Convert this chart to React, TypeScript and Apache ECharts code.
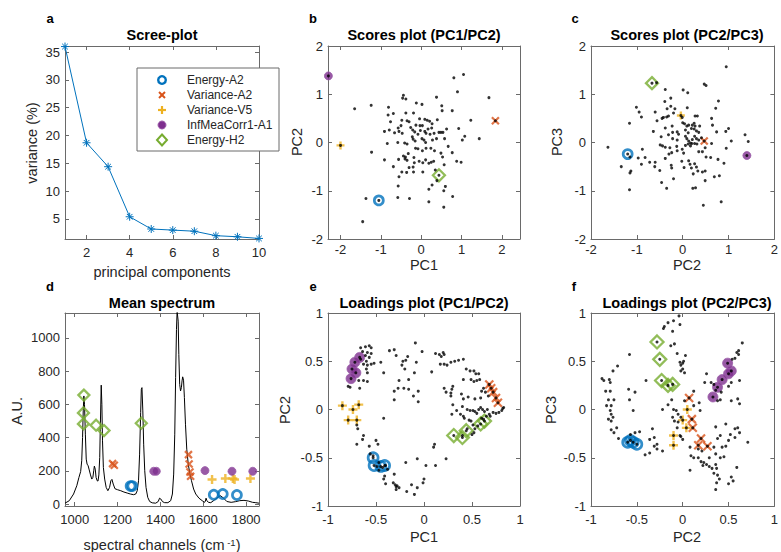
import React, { useEffect, useRef } from "react";
import * as echarts from "echarts";

const FONT = "'Liberation Sans', Arial, Helvetica, sans-serif";
const TXT = "#262626";
const LINE = "#6a6a6a";
const BLUE = "#0072BD";
const ORANGE = "#D95319";
const YELLOW = "#EDB120";
const PURPLE = "#7E2F8E";
const GREEN = "#77AC30";

// ---------- a: scree plot ----------
const components = [1, 2, 3, 4, 5, 6, 7, 8, 9, 10];
const varianceExplained = [36.0, 18.7, 14.4, 5.4, 3.2, 3.0, 2.8, 2.0, 1.8, 1.5];
const screeXTicks = [2, 4, 6, 8, 10];
const screeYTicks = [5, 10, 15, 20, 25, 30, 35];

// ---------- b: scores PC1/PC2 ----------
const scoresPC1PC2 = [
  [0.81, 1.34], [1.05, 1.41], [0.9, 1.05], [1.68, 0.93], [0.38, 0.94], [-1.65, 0.7], [-1.24, 0.77], [-0.44, 0.98],
  [-0.46, 0.92], [-0.38, 0.9], [-0.12, 0.82], [0.02, 0.79], [0.51, 0.76], [-0.81, 0.73], [0.52, 0.66], [0.77, 0.66],
  [-0.82, 0.57], [-0.69, 0.6], [-0.38, 0.61], [-0.19, 0.61], [-0.04, 0.49], [0.09, 0.48], [0.15, 0.46], [0.21, 0.44],
  [0.4, 0.47], [-0.48, 0.46], [-0.35, 0.45], [-0.3, 0.43], [1.23, 0.46], [-0.76, 0.43], [-0.57, 0.3], [-0.5, 0.35],
  [-0.26, 0.31], [-0.13, 0.36], [-0.03, 0.35], [0.03, 0.35], [0.27, 0.39], [0.26, 0.3], [-0.91, 0.23], [-0.79, 0.26],
  [-0.66, 0.2], [-0.55, 0.23], [-0.47, 0.19], [-0.21, 0.26], [-0.16, 0.22], [-0.02, 0.25], [0.09, 0.23], [0.12, 0.19],
  [0.17, 0.28], [0.22, 0.17], [0.32, 0.19], [0.44, 0.21], [0.49, 0.21], [0.54, 0.21], [0.63, 0.28], [0.93, 0.29],
  [1.08, 0.13], [1.02, 0.05], [1.44, 0.08], [-0.84, -0.02], [-0.58, 0.0], [-0.41, -0.01], [-0.35, -0.03], [-0.22, 0.12],
  [-0.2, 0.07], [-0.15, 0.03], [-0.08, 0.17], [0.02, 0.08], [0.07, 0.05], [0.11, 0.0], [0.28, 0.05], [0.38, 0.08],
  [0.58, 0.08], [-0.08, -0.13], [-0.14, -0.12], [0.03, -0.17], [0.12, -0.12], [0.24, -0.12], [0.33, -0.17], [0.49, -0.22],
  [0.53, -0.3], [0.67, -0.08], [0.77, -0.21], [-1.23, -0.2], [-0.91, -0.36], [-0.56, -0.35], [-0.44, -0.28], [-0.39, -0.3],
  [-0.4, -0.34], [-0.32, -0.23], [-0.35, -0.37], [-0.18, -0.31], [-0.17, -0.42], [-0.05, -0.39], [0.04, -0.42], [0.11, -0.36],
  [0.19, -0.43], [0.25, -0.41], [0.31, -0.39], [0.57, -0.46], [0.88, -0.39], [0.99, -0.41], [-0.69, -0.5], [-0.2, -0.51],
  [-0.3, -0.52], [-0.48, -0.61], [-0.55, -0.71], [-0.36, -0.62], [-0.19, -0.61], [0.04, -0.61], [0.35, -0.57], [0.39, -0.79],
  [0.6, -0.91], [0.56, -1.0], [0.27, -0.88], [0.19, -0.97], [-0.57, -0.9], [-0.58, -1.14], [-0.29, -1.16], [0.78, -1.12],
  [-1.37, -1.16], [0.19, -1.23], [0.56, -1.34], [-1.45, -1.64],
];
const energyA2Scores12 = [[-1.05, -1.2]];
const varianceA2Scores12 = [[1.84, 0.45]];
const varianceV5Scores12 = [[-2.0, -0.06]];
const infMeaCorrScores12 = [[-2.3, 1.38]];
const energyH2Scores12 = [[0.44, -0.68]];

// ---------- c: scores PC2/PC3 ----------
const scoresPC2PC3 = [
  [0.95, 1.57], [-0.57, 1.24], [-0.38, 1.1], [0.01, 1.09], [0.11, 1.03], [0.47, 1.21], [0.51, 1.18], [-0.26, 0.92],
  [0.78, 0.86], [-1.01, 0.73], [-0.95, 0.63], [-0.9, 0.53], [-0.39, 0.85], [-0.34, 0.7], [-0.26, 0.75], [-0.17, 0.7],
  [0.1, 0.72], [0.72, 0.71], [-0.6, 0.63], [-0.2, 0.61], [-1.16, 0.4], [-0.56, 0.45], [-0.45, 0.5], [-0.42, 0.52],
  [-0.35, 0.53], [-0.31, 0.55], [-0.01, 0.52], [0.27, 0.55], [0.32, 0.55], [0.63, 0.5], [-0.64, 0.23], [-0.38, 0.3],
  [-0.23, 0.34], [-0.22, 0.21], [-0.12, 0.22], [-0.09, 0.17], [0.0, 0.41], [0.04, 0.39], [0.09, 0.34], [0.13, 0.36],
  [0.21, 0.36], [0.25, 0.4], [0.27, 0.34], [0.37, 0.34], [0.06, 0.26], [0.12, 0.2], [0.19, 0.29], [0.25, 0.28],
  [0.3, 0.24], [0.35, 0.21], [0.41, 0.1], [0.65, 0.36], [0.74, 0.22], [0.94, 0.23], [1.0, 0.29], [1.06, 0.03],
  [1.36, 0.16], [1.43, 0.02], [-0.47, 0.12], [-0.31, 0.16], [-0.22, 0.08], [-0.12, 0.05], [0.06, 0.13], [0.09, 0.08],
  [0.13, 0.03], [0.17, -0.01], [0.21, 0.06], [0.26, 0.13], [0.3, 0.08], [0.35, 0.05], [-0.44, -0.07], [-0.49, -0.05],
  [-0.38, -0.1], [-0.28, -0.11], [-0.24, -0.21], [-0.13, -0.08], [-0.12, -0.17], [-0.01, -0.14], [0.02, -0.22], [0.06, -0.06],
  [0.12, -0.03], [0.17, -0.07], [0.2, -0.02], [0.26, -0.02], [0.31, -0.03], [0.35, -0.19], [0.43, -0.19], [0.49, -0.11],
  [0.63, -0.02], [0.51, -0.3], [0.77, -0.35], [0.61, -0.31], [0.95, -0.12], [0.9, -0.43], [-1.63, -0.1], [-1.15, -0.3],
  [-0.88, -0.14], [-0.82, -0.31], [-0.97, -0.32], [-0.9, -0.45], [-0.72, -0.41], [-0.6, -0.41], [-0.61, -0.5], [-1.34, -0.5],
  [-1.13, -0.59], [-1.15, -0.63], [-0.5, -0.58], [-0.38, -0.33], [-0.3, -0.24], [-0.25, -0.47], [-0.24, -0.53], [-0.02, -0.39],
  [0.03, -0.52], [0.13, -0.38], [0.16, -0.45], [0.19, -0.53], [0.26, -0.44], [0.3, -0.51], [0.23, -0.65], [0.33, -0.59],
  [0.43, -0.61], [0.49, -0.59], [0.69, -0.71], [0.8, -0.69], [-0.46, -0.83], [-0.35, -0.95], [-0.2, -0.75], [0.22, -0.95],
  [0.28, -0.94], [0.49, -0.79], [-1.16, -0.98], [0.45, -1.3], [0.84, -1.23],
];
const energyA2Scores23 = [[-1.2, -0.24]];
const varianceA2Scores23 = [[0.47, 0.03]];
const varianceV5Scores23 = [[-0.04, 0.56]];
const infMeaCorrScores23 = [[1.4, -0.27]];
const energyH2Scores23 = [[-0.67, 1.23]];

// ---------- d: mean spectrum ----------
const spectrumX = [
  955, 975, 995, 1010, 1020, 1028, 1033, 1037, 1040, 1043, 1046, 1050, 1054, 1058, 1063, 1068, 1074, 1080, 1085, 1089,
  1092, 1096, 1100, 1105, 1109, 1113, 1117, 1120, 1124, 1127, 1130, 1134, 1140, 1147, 1155, 1163, 1169, 1174, 1180, 1188,
  1200, 1215, 1230, 1245, 1260, 1275, 1285, 1292, 1298, 1303, 1308, 1311, 1314, 1318, 1322, 1327, 1333, 1341, 1350, 1362,
  1378, 1390, 1396, 1402, 1410, 1420, 1435, 1448, 1456, 1462, 1467, 1471, 1475, 1478, 1480, 1483, 1486, 1490, 1494, 1498,
  1501, 1504, 1508, 1512, 1517, 1523, 1530, 1537, 1545, 1555, 1565, 1580, 1595, 1606, 1610, 1613, 1617, 1624, 1635, 1650,
  1665, 1680, 1695, 1710, 1730, 1750, 1770, 1790, 1810, 1830, 1845, 1860,
];
const spectrumY = [
  5, 20, 60, 110, 160, 195, 260, 400, 560, 650, 600, 420, 270, 240, 230, 205, 175, 150, 160, 200,
  228, 210, 160, 140, 138, 175, 280, 480, 715, 600, 380, 220, 150, 100, 80, 100, 140, 148, 120, 92,
  86, 80, 72, 66, 60, 56, 60, 80, 140, 300, 550, 690, 700, 560, 360, 200, 100, 40, 15, 7,
  5, 15, 35, 30, 14, 8, 8, 20, 60, 180, 420, 760, 1050, 1160, 1160, 1100, 900, 720, 680, 700,
  740, 765, 745, 640, 480, 330, 240, 185, 140, 90, 60, 35, 20, 10, 18, 35, 20, 10, 8, 22,
  38, 50, 35, 15, 10, 14, 20, 22, 18, 10, 8, 5,
];
const spectrumXTicks = [1000, 1200, 1400, 1600, 1800];
const spectrumYTicks = [0, 200, 400, 600, 800, 1000];
const energyA2Spectrum = [[1261, 108], [1269, 108], [1649, 56], [1691, 60], [1757, 54]];
const varianceA2Spectrum = [[1177, 243], [1185, 233], [1531, 297], [1534, 241], [1538, 193], [1541, 167]];
const varianceV5Spectrum = [[1641, 147], [1703, 153], [1738, 153], [1746, 147], [1820, 153]];
const infMeaCorrSpectrum = [[1369, 197], [1381, 197], [1608, 201], [1734, 197], [1831, 197]];
const energyH2Spectrum = [[1043, 655], [1041, 548], [1041, 482], [1100, 474], [1137, 442], [1311, 486]];

// ---------- e: loadings PC1/PC2 ----------
const loadingsPC1PC2 = [
  [-0.66, 0.64], [-0.61, 0.65], [-0.57, 0.66], [-0.55, 0.64], [-0.64, 0.6], [-0.59, 0.59], [-0.55, 0.58], [-0.61, 0.56],
  [-0.57, 0.54], [-0.6, 0.5], [-0.63, 0.47], [-0.59, 0.46], [-0.55, 0.47], [-0.52, 0.48], [-0.66, 0.52], [-0.6, 0.42],
  [-0.59, 0.38], [-0.68, 0.3], [-0.63, 0.3], [-0.59, 0.29], [-0.79, 0.24], [-0.77, 0.23], [-0.67, 0.22], [-0.36, 0.61],
  [-0.31, 0.62], [-0.09, 0.69], [-0.02, 0.6], [-0.29, 0.56], [-0.19, 0.51], [-0.22, 0.5], [-0.17, 0.55], [-0.23, 0.46],
  [-0.08, 0.49], [-0.45, 0.49], [-0.42, 0.38], [-0.2, 0.42], [-0.1, 0.38], [-0.26, 0.3], [-0.16, 0.31], [-0.31, 0.19],
  [-0.27, 0.22], [-0.21, 0.22], [-0.16, 0.21], [-0.06, 0.19], [-0.11, 0.14], [-0.06, 0.08], [-0.31, 0.1], [0.08, 0.39],
  [0.12, 0.58], [0.16, 0.57], [0.2, 0.59], [0.21, 0.57], [0.18, 0.55], [0.17, 0.47], [0.21, 0.47], [0.24, 0.46],
  [0.28, 0.49], [0.32, 0.5], [0.36, 0.51], [0.41, 0.52], [0.44, 0.42], [0.48, 0.4], [0.52, 0.4], [0.54, 0.37],
  [0.57, 0.37], [0.41, 0.31], [0.49, 0.31], [0.52, 0.29], [0.55, 0.3], [0.58, 0.31], [0.3, 0.24], [0.29, 0.21],
  [0.21, 0.22], [0.23, 0.18], [0.28, 0.17], [0.28, 0.14], [0.39, 0.16], [0.41, 0.11], [0.46, 0.13], [0.53, 0.11],
  [0.59, 0.12], [0.6, 0.19], [0.62, 0.22], [0.64, 0.18], [0.67, 0.14], [0.3, 0.05], [0.4, 0.03], [0.29, -0.05],
  [0.34, -0.01], [0.38, -0.05], [0.41, -0.07], [0.45, 0.0], [0.48, -0.01], [0.51, -0.01], [0.53, -0.02], [0.55, -0.04],
  [0.57, 0.0], [0.59, 0.02], [0.61, 0.0], [0.63, -0.02], [0.66, 0.0], [0.68, -0.05], [0.72, -0.03], [0.75, -0.04],
  [0.78, -0.03], [0.82, 0.01], [0.83, 0.02], [0.81, -0.01], [0.42, -0.09], [0.47, -0.11], [0.49, -0.12], [0.51, -0.16],
  [0.53, -0.2], [0.56, -0.17], [0.6, -0.09], [0.62, -0.1], [0.65, -0.07], [0.69, -0.07], [0.5, -0.26], [0.52, -0.24],
  [0.45, -0.2], [0.4, -0.27], [-0.42, -0.09], [-0.7, -0.16], [-0.69, -0.2], [-0.64, -0.31], [-0.63, -0.27], [-0.7, -0.36],
  [-0.57, -0.38], [-0.5, -0.32], [-0.48, -0.36], [-0.56, -0.46], [-0.53, -0.48], [-0.47, -0.55], [-0.49, -0.59], [-0.47, -0.63],
  [-0.43, -0.6], [-0.4, -0.58], [-0.38, -0.62], [-0.41, -0.69], [-0.42, -0.72], [-0.31, -0.67], [-0.4, -0.77], [-0.32, -0.76],
  [-0.3, -0.78], [-0.29, -0.8], [-0.28, -0.79], [-0.26, -0.81], [-0.29, -0.83], [-0.18, -0.85], [-0.13, -0.78], [-0.1, -0.88],
  [-0.07, -0.81], [-0.07, -0.51], [0.02, -0.58], [0.0, -0.72], [0.12, -0.58], [0.1, -0.39], [0.11, -0.36], [0.23, -0.51],
  [-0.19, -0.55], [-0.01, -0.76],
];
const energyA2Loadings12 = [[-0.53, -0.5], [-0.52, -0.58], [-0.45, -0.59], [-0.41, -0.58]];
const varianceA2Loadings12 = [[0.68, 0.26], [0.7, 0.22], [0.72, 0.18], [0.75, 0.12], [0.77, 0.07]];
const varianceV5Loadings12 = [[-0.85, 0.04], [-0.74, 0.0], [-0.68, 0.05], [-0.79, -0.11], [-0.7, -0.11]];
const infMeaCorrLoadings12 = [[-0.67, 0.54], [-0.72, 0.49], [-0.75, 0.42], [-0.71, 0.38], [-0.76, 0.32]];
const energyH2Loadings12 = [[0.31, -0.27], [0.4, -0.29], [0.44, -0.22], [0.59, -0.15], [0.63, -0.12]];

// ---------- f: loadings PC2/PC3 ----------
const loadingsPC2PC3 = [
  [-0.04, 0.97], [-0.1, 0.92], [-0.16, 0.9], [-0.2, 0.86], [-0.21, 0.84], [-0.11, 0.81], [-0.03, 0.88], [-0.09, 0.68],
  [-0.13, 0.66], [-0.06, 0.58], [0.03, 0.56], [0.0, 0.48], [-0.03, 0.49], [-0.02, 0.46], [0.01, 0.5], [0.0, 0.42],
  [0.02, 0.38], [-0.02, 0.4], [-0.58, 0.57], [-0.71, 0.45], [-0.76, 0.4], [-0.88, 0.32], [-0.86, 0.3], [-0.8, 0.31],
  [-0.79, 0.28], [-0.84, 0.19], [-0.79, 0.19], [-0.4, 0.3], [-0.59, 0.21], [-0.52, 0.18], [-0.58, 0.1], [-0.81, 0.1],
  [-0.83, 0.04], [-0.78, 0.04], [-0.75, 0.1], [-0.79, -0.01], [-0.78, -0.05], [-0.81, -0.1], [-0.78, -0.12], [-0.76, -0.08],
  [-0.72, -0.19], [-0.78, -0.21], [-0.75, -0.24], [-0.7, -0.3], [-0.54, -0.01], [-0.57, -0.26], [-0.52, -0.24], [-0.47, -0.23],
  [-0.33, -0.2], [-0.31, -0.29], [-0.36, -0.31], [-0.28, -0.36], [-0.31, -0.38], [-0.28, -0.41], [-0.41, -0.47], [-0.36, -0.45],
  [-0.22, -0.43], [-0.12, 0.1], [-0.16, 0.05], [-0.22, 0.0], [-0.1, 0.0], [-0.07, -0.01], [0.02, 0.09], [-0.05, -0.05],
  [-0.02, -0.08], [-0.06, -0.19], [-0.03, -0.27], [-0.02, -0.28], [0.0, -0.31], [-0.11, -0.08], [-0.09, -0.12], [-0.05, -0.13],
  [0.12, 0.19], [0.18, 0.07], [0.12, 0.04], [0.19, -0.01], [0.26, 0.37], [0.24, 0.28], [0.31, 0.28], [0.34, 0.26],
  [0.36, 0.2], [0.38, 0.09], [0.41, 0.1], [0.42, 0.18], [0.53, 0.28], [0.62, 0.3], [0.6, 0.11], [0.62, 0.06],
  [0.53, 0.09], [0.5, 0.24], [0.57, 0.53], [0.61, 0.57], [0.65, 0.69], [0.61, 0.61], [0.59, 0.59], [0.54, 0.52],
  [0.36, -0.18], [0.47, -0.15], [0.57, -0.2], [0.6, -0.19], [0.52, -0.26], [0.41, -0.27], [0.38, -0.3], [0.5, -0.32],
  [0.57, -0.29], [0.62, -0.24], [0.71, -0.34], [0.08, -0.39], [0.09, -0.48], [0.12, -0.5], [0.17, -0.5], [0.2, -0.54],
  [0.23, -0.55], [0.26, -0.57], [0.22, -0.58], [0.29, -0.59], [0.32, -0.61], [0.36, -0.57], [0.37, -0.61], [0.34, -0.66],
  [0.38, -0.68], [0.4, -0.72], [0.37, -0.76], [0.36, -0.83], [0.41, -0.5], [0.45, -0.49], [0.43, -0.39], [0.47, -0.38],
  [0.59, -0.6], [0.53, -0.7], [0.55, -0.74], [0.5, -0.77], [0.08, -0.63], [0.17, -0.41], [0.21, -0.43], [0.29, -0.5],
  [0.36, -0.46], [0.34, -0.39],
];
const energyA2Loadings23 = [[-0.6, -0.34], [-0.57, -0.32], [-0.54, -0.34], [-0.5, -0.36]];
const varianceA2Loadings23 = [[0.07, 0.12], [0.1, -0.1], [0.11, -0.19], [0.2, -0.3], [0.17, -0.37], [0.27, -0.38]];
const varianceV5Loadings23 = [[0.05, 0.0], [0.0, -0.11], [0.04, -0.19], [-0.1, -0.27], [-0.1, -0.37]];
const infMeaCorrLoadings23 = [[0.49, 0.48], [0.53, 0.4], [0.5, 0.37], [0.43, 0.31], [0.38, 0.23], [0.33, 0.13]];
const energyH2Loadings23 = [[-0.28, 0.7], [-0.25, 0.52], [-0.23, 0.3], [-0.16, 0.25], [-0.11, 0.26]];

const scoreTicks = [-2, -1, 0, 1, 2];
const loadingTicks = [-1, -0.5, 0, 0.5, 1];

const featureNames = ["Energy-A2", "Variance-A2", "Variance-V5", "InfMeaCorr1-A1", "Energy-H2"];

const X_PATH = "path://M0 0L10 10M10 0L0 10";
const PLUS_PATH = "path://M5 0L5 10M0 5L10 5";
const STAR_PATH = "path://M5 0L5 10M0 5L10 5M1.5 1.5L8.5 8.5M8.5 1.5L1.5 8.5";

type Sizes = { c: number; x: number; p: number; d: number; m: number };

function axes(g: number, dim: "x" | "y", min: number, max: number, ticks: number[], margin: number) {
  const base = {
    type: "value",
    gridIndex: g,
    min,
    max,
    splitLine: { show: false },
    axisLine: { show: true, onZero: false, lineStyle: { color: LINE, width: 1 } },
    axisTick: { show: true, inside: true, length: 4, customValues: ticks, lineStyle: { color: LINE, width: 1 } },
  };
  const main = {
    ...base,
    position: dim === "x" ? "bottom" : "left",
    axisLabel: {
      show: true,
      customValues: ticks,
      color: TXT,
      fontSize: 13,
      fontFamily: FONT,
      margin,
      formatter: (v: number) => String(v),
    },
  };
  const mirror = {
    ...base,
    position: dim === "x" ? "top" : "right",
    axisLabel: { show: false },
  };
  return [main, mirror];
}

function markers(g: number, sets: number[][][], s: Sizes) {
  const styles = [
    { symbol: "circle", symbolSize: s.c, itemStyle: { color: "none", borderColor: BLUE, borderWidth: 2.7 } },
    { symbol: X_PATH, symbolSize: s.x, itemStyle: { color: "none", borderColor: ORANGE, borderWidth: 2.2 } },
    { symbol: PLUS_PATH, symbolSize: s.p, itemStyle: { color: "none", borderColor: YELLOW, borderWidth: 2.4 } },
    { symbol: "circle", symbolSize: s.m, itemStyle: { color: PURPLE, borderColor: "#9a5aa8", borderWidth: 1 } },
    { symbol: "diamond", symbolSize: s.d, itemStyle: { color: "none", borderColor: GREEN, borderWidth: 2.3 } },
  ];
  return sets.map((data, i) => ({
    type: "scatter",
    name: featureNames[i],
    xAxisIndex: 2 * g,
    yAxisIndex: 2 * g,
    data,
    silent: true,
    z: 3,
    ...styles[i],
  }));
}

function dots(g: number, data: number[][]) {
  return {
    type: "scatter",
    xAxisIndex: 2 * g,
    yAxisIndex: 2 * g,
    data,
    symbol: "circle",
    symbolSize: 3,
    itemStyle: { color: "#000" },
    silent: true,
    z: 4,
  };
}

function txt(text: string, x: number, y: number, size: number, opts: any = {}) {
  return {
    type: "text",
    x,
    y,
    rotation: opts.rotate ? Math.PI / 2 : 0,
    z: 100,
    silent: true,
    style: {
      text,
      fill: opts.color || TXT,
      fontSize: size,
      fontWeight: opts.bold ? "bold" : "normal",
      fontFamily: FONT,
      align: opts.align || "center",
      verticalAlign: "middle",
      rich: opts.rich,
    },
  };
}

export default function App() {
  const ref = useRef<HTMLDivElement>(null);
  useEffect(() => {
    if (!ref.current) return;
    const chart = echarts.init(ref.current, null, { renderer: "svg" });

    const grids = [
      { left: 65, top: 46, width: 194, height: 193 },
      { left: 328, top: 46, width: 192, height: 193 },
      { left: 591, top: 46, width: 192, height: 193 },
      { left: 65, top: 313, width: 194, height: 193 },
      { left: 328, top: 313, width: 192, height: 193 },
      { left: 591, top: 313, width: 192, height: 193 },
    ];

    const xAxis = [
      ...axes(0, "x", 1, 10, screeXTicks, 7),
      ...axes(1, "x", -2.31, 2.45, scoreTicks, 4),
      ...axes(2, "x", -2, 2, scoreTicks, 4),
      ...axes(3, "x", 955, 1860, spectrumXTicks, 7),
      ...axes(4, "x", -1, 1, loadingTicks, 7),
      ...axes(5, "x", -1, 1, loadingTicks, 7),
    ];
    const yAxis = [
      ...axes(0, "y", 1.4, 36.1, screeYTicks, 5),
      ...axes(1, "y", -2, 2, scoreTicks, 5),
      ...axes(2, "y", -2, 2, scoreTicks, 5),
      ...axes(3, "y", -12, 1149, spectrumYTicks, 5),
      ...axes(4, "y", -1, 1, loadingTicks, 5),
      ...axes(5, "y", -1, 1, loadingTicks, 5),
    ];

    const scoreSizes: Sizes = { c: 9, x: 7, p: 8, d: 12, m: 8 };
    const loadSizes: Sizes = { c: 10, x: 8, p: 9, d: 13, m: 10 };
    const specSizes: Sizes = { c: 9, x: 7, p: 9, d: 11, m: 8 };

    const specB = [energyA2Scores12, varianceA2Scores12, varianceV5Scores12, infMeaCorrScores12, energyH2Scores12];
    const specC = [energyA2Scores23, varianceA2Scores23, varianceV5Scores23, infMeaCorrScores23, energyH2Scores23];
    const specD = [energyA2Spectrum, varianceA2Spectrum, varianceV5Spectrum, infMeaCorrSpectrum, energyH2Spectrum];
    const specE = [energyA2Loadings12, varianceA2Loadings12, varianceV5Loadings12, infMeaCorrLoadings12, energyH2Loadings12];
    const specF = [energyA2Loadings23, varianceA2Loadings23, varianceV5Loadings23, infMeaCorrLoadings23, energyH2Loadings23];

    const series: any[] = [
      {
        type: "line",
        xAxisIndex: 0,
        yAxisIndex: 0,
        data: components.map((c, i) => [c, varianceExplained[i]]),
        symbol: STAR_PATH,
        symbolSize: 8,
        showSymbol: true,
        lineStyle: { color: BLUE, width: 1 },
        itemStyle: { color: "none", borderColor: BLUE, borderWidth: 1 },
        silent: true,
        z: 3,
      },
      {
        type: "line",
        xAxisIndex: 6,
        yAxisIndex: 6,
        data: spectrumX.map((x, i) => [x, spectrumY[i]]),
        showSymbol: false,
        symbol: "none",
        lineStyle: { color: "#000", width: 1 },
        silent: true,
        z: 2,
      },
      ...markers(1, specB, scoreSizes),
      dots(1, [...scoresPC1PC2, ...specB.flat()]),
      ...markers(2, specC, scoreSizes),
      dots(2, [...scoresPC2PC3, ...specC.flat()]),
      ...markers(3, specD, specSizes),
      ...markers(4, specE, loadSizes),
      dots(4, [...loadingsPC1PC2, ...specE.flat()]),
      ...markers(5, specF, loadSizes),
      dots(5, [...loadingsPC2PC3, ...specF.flat()]),
    ];

    const legendRows = [80, 95, 110, 125, 140];
    const mx = 162;
    const legend: any[] = [
      { type: "rect", z: 99, silent: true, shape: { x: 137, y: 68, width: 142, height: 83 }, style: { fill: "#fff", stroke: LINE, lineWidth: 1 } },
      { type: "circle", z: 100, silent: true, shape: { cx: mx, cy: legendRows[0], r: 3.8 }, style: { fill: "none", stroke: BLUE, lineWidth: 2.4 } },
      { type: "line", z: 100, silent: true, shape: { x1: mx - 3, y1: legendRows[1] - 3, x2: mx + 3, y2: legendRows[1] + 3 }, style: { stroke: ORANGE, lineWidth: 2 } },
      { type: "line", z: 100, silent: true, shape: { x1: mx + 3, y1: legendRows[1] - 3, x2: mx - 3, y2: legendRows[1] + 3 }, style: { stroke: ORANGE, lineWidth: 2 } },
      { type: "line", z: 100, silent: true, shape: { x1: mx, y1: legendRows[2] - 4, x2: mx, y2: legendRows[2] + 4 }, style: { stroke: YELLOW, lineWidth: 2.2 } },
      { type: "line", z: 100, silent: true, shape: { x1: mx - 4, y1: legendRows[2], x2: mx + 4, y2: legendRows[2] }, style: { stroke: YELLOW, lineWidth: 2.2 } },
      { type: "circle", z: 100, silent: true, shape: { cx: mx, cy: legendRows[3], r: 4 }, style: { fill: PURPLE, stroke: "#9a5aa8", lineWidth: 1 } },
      { type: "polygon", z: 100, silent: true, shape: { points: [[mx, legendRows[4] - 5.5], [mx + 5, legendRows[4]], [mx, legendRows[4] + 5.5], [mx - 5, legendRows[4]]] }, style: { fill: "none", stroke: GREEN, lineWidth: 2 } },
      ...featureNames.map((n, i) => txt(n, 187, legendRows[i], 12, { align: "left" })),
    ];

    const labels: any[] = [
      txt("a", 50, 18, 13, { bold: true, color: "#000" }),
      txt("b", 313, 18, 13, { bold: true, color: "#000" }),
      txt("c", 575, 18, 13, { bold: true, color: "#000" }),
      txt("d", 50, 286, 13, { bold: true, color: "#000" }),
      txt("e", 313, 286, 13, { bold: true, color: "#000" }),
      txt("f", 574, 286, 13, { bold: true, color: "#000" }),
      txt("Scree-plot", 162, 35, 14.5, { bold: true, color: "#000" }),
      txt("Scores plot (PC1/PC2)", 424, 35, 14.5, { bold: true, color: "#000" }),
      txt("Scores plot (PC2/PC3)", 687, 35, 14.5, { bold: true, color: "#000" }),
      txt("Mean spectrum", 162, 303, 14.5, { bold: true, color: "#000" }),
      txt("Loadings plot (PC1/PC2)", 424, 303, 14.5, { bold: true, color: "#000" }),
      txt("Loadings plot (PC2/PC3)", 687, 303, 14.5, { bold: true, color: "#000" }),
      txt("variance (%)", 32, 143, 14.5, { rotate: true }),
      txt("principal components", 162, 272, 14.5),
      txt("PC2", 297, 142, 14.5, { rotate: true }),
      txt("PC1", 424, 265, 14.5),
      txt("PC3", 557, 142, 14.5, { rotate: true }),
      txt("PC2", 687, 265, 14.5),
      txt("A.U.", 17, 411, 14.5, { rotate: true }),
      txt("spectral channels (cm{sup| -1})", 162, 545, 14.5, { rich: { sup: { fontSize: 9.5, fontFamily: FONT, fill: TXT, verticalAlign: "top", lineHeight: 10 } } }),
      txt("PC2", 285, 410, 14.5, { rotate: true }),
      txt("PC1", 424, 537, 14.5),
      txt("PC3", 551, 410, 14.5, { rotate: true }),
      txt("PC2", 687, 537, 14.5),
    ];

    chart.setOption({
      animation: false,
      backgroundColor: "#fff",
      textStyle: { fontFamily: FONT },
      grid: grids,
      xAxis,
      yAxis,
      series,
      graphic: { elements: [...legend, ...labels] },
    });
    return () => chart.dispose();
  }, []);

  return <div ref={ref} style={{ position: "absolute", left: 0, top: 0, width: 781, height: 552 }} />;
}
